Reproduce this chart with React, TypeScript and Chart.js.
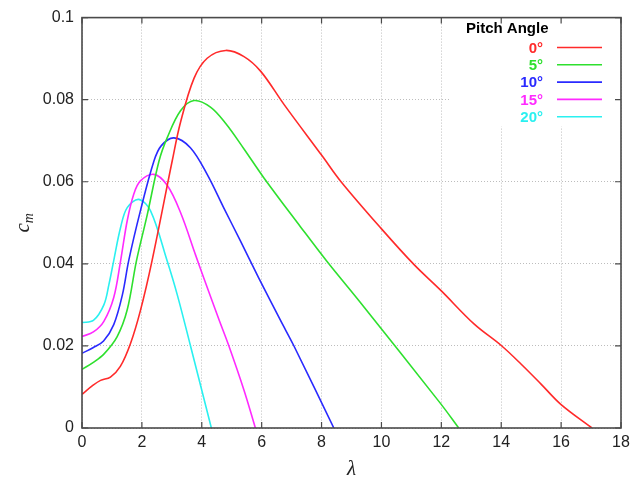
import React, { useEffect, useRef } from 'react';
import { Chart, registerables } from 'chart.js';

Chart.register(...registerables);

// ---------- data ----------
const LEGEND_TITLE = 'Pitch Angle';
const SERIES_LABELS = ['0°', '5°', '10°', '15°', '20°'];
const SERIES_COLORS = ['#ff2a2a', '#2ee02e', '#2a2aff', '#ff2aff', '#2af0f0'];

const lambda0 = [0, 0.35, 0.62, 0.95, 1.28, 1.62, 1.95, 2.34, 3.01, 3.29, 3.74, 4.18, 4.8, 5.41, 5.97, 6.75, 8.03, 8.63, 9.98, 11.09, 12.0, 13.1, 14.0, 14.66, 15.33, 16.0, 17.03];
const cm0 = [0.0082, 0.0103, 0.0116, 0.0124, 0.015, 0.0206, 0.0286, 0.0408, 0.065, 0.0745, 0.0852, 0.0901, 0.092, 0.0905, 0.0869, 0.0788, 0.0662, 0.0602, 0.0487, 0.0398, 0.0334, 0.0253, 0.0201, 0.0156, 0.0107, 0.0057, 0];

const lambda5 = [0, 0.38, 0.73, 1.17, 1.51, 1.82, 2.18, 2.57, 2.85, 3.29, 3.74, 4.29, 4.8, 5.41, 6.07, 7.3, 8.19, 9.25, 11.97, 12.58];
const cm5 = [0.0143, 0.016, 0.018, 0.0222, 0.0288, 0.0408, 0.052, 0.065, 0.0708, 0.0773, 0.0798, 0.0782, 0.0742, 0.068, 0.061, 0.049, 0.0405, 0.031, 0.006, 0];

const lambda10 = [0, 0.38, 0.72, 1.06, 1.35, 1.56, 1.95, 2.4, 2.65, 3.07, 3.62, 4.18, 4.73, 5.29, 5.9, 6.63, 7.07, 8.41];
const cm10 = [0.0182, 0.0196, 0.0212, 0.0252, 0.0325, 0.0408, 0.0529, 0.065, 0.0688, 0.0707, 0.0683, 0.0618, 0.0537, 0.0456, 0.0366, 0.0262, 0.0201, 0];

const lambda15 = [0, 0.38, 0.73, 1.06, 1.29, 1.51, 1.73, 1.95, 2.4, 2.84, 3.29, 3.8, 4.07, 4.57, 4.9, 5.41, 5.79];
const cm15 = [0.0223, 0.0234, 0.026, 0.0318, 0.0408, 0.0505, 0.057, 0.0602, 0.0618, 0.0592, 0.0525, 0.042, 0.0365, 0.0265, 0.0201, 0.0092, 0];

const lambda20 = [0, 0.38, 0.73, 0.9, 1.06, 1.29, 1.51, 1.9, 2.29, 2.84, 3.18, 3.62, 4.32];
const cm20 = [0.0257, 0.0262, 0.03, 0.035, 0.0408, 0.0489, 0.0537, 0.0557, 0.0529, 0.0408, 0.0325, 0.0201, 0];

const X_TICKS = [0, 2, 4, 6, 8, 10, 12, 14, 16, 18];
const Y_TICKS = [0, 0.02, 0.04, 0.06, 0.08, 0.1];
const Y_TICK_LABELS = ['0', '0.02', '0.04', '0.06', '0.08', '0.1'];
const X_TITLE = 'λ';
const Y_TITLE_MAIN = 'c';
const Y_TITLE_SUB = 'm';

const SERIES = [
  [lambda0, cm0],
  [lambda5, cm5],
  [lambda10, cm10],
  [lambda15, cm15],
  [lambda20, cm20],
];

const SANS = '"Liberation Sans", Arial, sans-serif';
const SERIF = '"Liberation Serif", "DejaVu Serif", serif';

const decorPlugin = {
  id: 'decor',
  beforeDatasetsDraw(chart: any) {
    const { ctx, chartArea: a } = chart;
    ctx.save();
    ctx.fillStyle = '#ffffff';
    ctx.fillRect(450, a.top + 1, a.right - 451, 108);
    ctx.restore();
  },
  afterDraw(chart: any) {
    const { ctx, chartArea: a, scales } = chart;
    const xs = scales.x;
    const ys = scales.y;
    ctx.save();
    // frame
    ctx.strokeStyle = '#4a4a4a';
    ctx.lineWidth = 1.6;
    ctx.strokeRect(a.left, a.top, a.right - a.left, a.bottom - a.top);
    // inward tick marks
    ctx.lineWidth = 1.2;
    ctx.beginPath();
    X_TICKS.forEach((v) => {
      const px = xs.getPixelForValue(v);
      ctx.moveTo(px, a.bottom);
      ctx.lineTo(px, a.bottom - 6);
      ctx.moveTo(px, a.top);
      ctx.lineTo(px, a.top + 6);
    });
    Y_TICKS.forEach((v) => {
      const py = ys.getPixelForValue(v);
      ctx.moveTo(a.left, py);
      ctx.lineTo(a.left + 6, py);
      ctx.moveTo(a.right, py);
      ctx.lineTo(a.right - 6, py);
    });
    ctx.stroke();

    // legend
    ctx.textBaseline = 'middle';
    ctx.fillStyle = '#000';
    ctx.font = `bold 15px ${SANS}`;
    ctx.textAlign = 'left';
    ctx.fillText(LEGEND_TITLE, 466, 29);
    chart.data.datasets.forEach((ds: any, i: number) => {
      const yy = 47.5 + i * 17.3;
      ctx.fillStyle = ds.borderColor;
      ctx.textAlign = 'right';
      ctx.font = `bold 15px ${SANS}`;
      ctx.fillText(ds.label, 543, yy + 1);
      ctx.strokeStyle = ds.borderColor;
      ctx.lineWidth = 1.6;
      ctx.beginPath();
      ctx.moveTo(557, yy);
      ctx.lineTo(602, yy);
      ctx.stroke();
    });

    // axis titles
    ctx.fillStyle = '#222';
    ctx.textAlign = 'center';
    ctx.textBaseline = 'middle';
    ctx.font = `italic 21px ${SERIF}`;
    ctx.fillText(X_TITLE, (a.left + a.right) / 2, 469);

    ctx.save();
    ctx.translate(29, (a.top + a.bottom) / 2);
    ctx.rotate(-Math.PI / 2);
    ctx.textBaseline = 'alphabetic';
    ctx.textAlign = 'left';
    ctx.font = `italic 21px ${SERIF}`;
    const wc = ctx.measureText(Y_TITLE_MAIN).width;
    ctx.font = `italic 14px ${SERIF}`;
    const wm = ctx.measureText(Y_TITLE_SUB).width;
    const start = -(wc + wm) / 2;
    ctx.font = `italic 21px ${SERIF}`;
    ctx.fillText(Y_TITLE_MAIN, start, 0);
    ctx.font = `italic 14px ${SERIF}`;
    ctx.fillText(Y_TITLE_SUB, start + wc, 4);
    ctx.restore();

    ctx.restore();
  },
};

export default function App() {
  const canvasRef = useRef<HTMLCanvasElement | null>(null);

  useEffect(() => {
    if (!canvasRef.current) return;
    const datasets = SERIES.map(([xs, ys], i) => ({
      label: SERIES_LABELS[i],
      data: xs.map((x, k) => ({ x, y: ys[k] })),
      borderColor: SERIES_COLORS[i],
      backgroundColor: SERIES_COLORS[i],
      borderWidth: 1.6,
      pointRadius: 0,
      fill: false,
      tension: 0.35,
    }));

    const chart = new Chart(canvasRef.current, {
      type: 'line',
      data: { datasets },
      options: {
        animation: false,
        responsive: false,
        maintainAspectRatio: false,
        layout: { padding: { top: 16, right: 17, left: 0, bottom: 0 } },
        plugins: {
          legend: { display: false },
          tooltip: { enabled: false },
          title: { display: false },
        },
        scales: {
          x: {
            type: 'linear',
            min: 0,
            max: 18,
            afterFit: (s: any) => {
              s.height = 56;
            },
            afterBuildTicks: (s: any) => {
              s.ticks = X_TICKS.map((v) => ({ value: v }));
            },
            ticks: {
              padding: 5,
              color: '#222',
              font: { family: SANS, size: 16 },
              maxRotation: 0,
              callback: (v: any) => String(v),
            },
            grid: {
              color: '#bdbdbd',
              lineWidth: 1,
              drawTicks: false,
            },
            border: { display: false, dash: [1, 2] },
          },
          y: {
            type: 'linear',
            min: 0,
            max: 0.1,
            afterFit: (s: any) => {
              s.width = 82;
            },
            afterBuildTicks: (s: any) => {
              s.ticks = Y_TICKS.map((v) => ({ value: v }));
            },
            ticks: {
              padding: 8,
              color: '#222',
              font: { family: SANS, size: 16 },
              callback: (v: any) => {
                let best = 0;
                Y_TICKS.forEach((t, i) => {
                  if (Math.abs(t - v) < Math.abs(Y_TICKS[best] - v)) best = i;
                });
                return Y_TICK_LABELS[best];
              },
            },
            grid: {
              color: '#bdbdbd',
              lineWidth: 1,
              drawTicks: false,
            },
            border: { display: false, dash: [1, 2] },
          },
        },
      },
      plugins: [decorPlugin],
    });
    return () => chart.destroy();
  }, []);

  return (
    <div style={{ position: 'fixed', left: 0, top: 0, width: 638, height: 484, background: '#fff' }}>
      <canvas ref={canvasRef} width={638} height={484} style={{ display: 'block' }} />
    </div>
  );
}
